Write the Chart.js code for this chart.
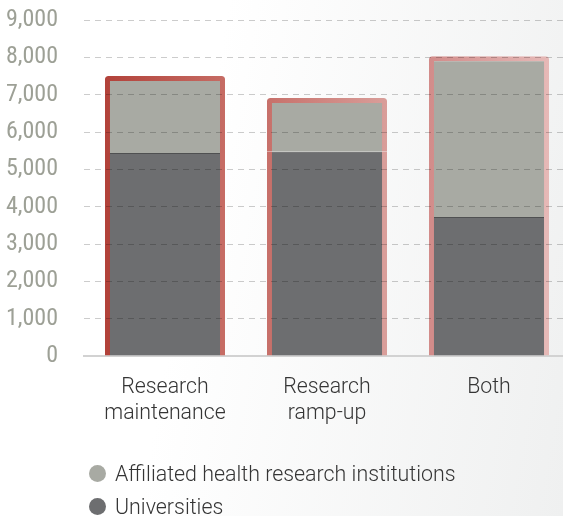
<!DOCTYPE html>
<html>
<head>
<meta charset="utf-8">
<script src="https://cdn.jsdelivr.net/npm/chart.js@4.4.1/dist/chart.umd.min.js"></script>
<style>
  html, body { margin: 0; padding: 0; }
  body {
    width: 563px;
    height: 516px;
    overflow: hidden;
    background: linear-gradient(100deg, #ffffff 35%, #eff0f0 100%);
    position: relative;
  }
  #wrap { width: 572px; height: 516px; position: relative; }
  #legend {
    position: absolute;
    left: 89px;
    top: 457px;
    margin: 0;
    padding: 0;
    list-style: none;
    font-family: Roboto, sans-serif;
    font-weight: 300;
    font-size: 21.4px;
    color: #353535;
  }
  #legend li { display: flex; align-items: center; height: 33px; white-space: nowrap; }
  #legend span.dot { width: 17px; height: 17px; border-radius: 50%; margin-right: 9px; flex: none; }
</style>
</head>
<body>
<div id="wrap"><canvas id="chart"></canvas></div>
<ul id="legend"></ul>
<script>
// data
const categories = [["Research", "maintenance"], ["Research", "ramp-up"], "Both"];
const universities = [5440, 5470, 3720];
const affiliated = [2060, 1440, 4310];
const yMax = 9000;
const yStep = 1000;

// styling
const edgeColors = [["#b2423a", "#c66c64"], ["#c7706a", "#d99e9a"], ["#d28c8a", "#e6b9b7"]];
const seamColor = "#4f5051";
const BAR_PCT = 0.741;
const EDGE = 5;

// red outline shaded left to right; the seam variant keeps the middle dark
function edgeFill(ctx, seam) {
    const chart = ctx.chart;
    const x = chart.scales && chart.scales.x;
    const pair = edgeColors[ctx.dataIndex];
    if (!chart.chartArea || !x) return pair[0];
    const center = x.getPixelForValue(ctx.dataIndex);
    const half = x.width / categories.length * BAR_PCT / 2;
    const g = chart.ctx.createLinearGradient(center - half, 0, center + half, 0);
    g.addColorStop(0, pair[0]);
    if (seam) {
        const f = EDGE / (2 * half);
        g.addColorStop(f, pair[0]);
        g.addColorStop(f, seamColor);
        g.addColorStop(1 - f, seamColor);
        g.addColorStop(1 - f, pair[1]);
    }
    g.addColorStop(1, pair[1]);
    return g;
}

// legend as a list below the canvas, built from the chart's own legend items
const htmlLegend = {
    id: "htmlLegend",
    afterUpdate(chart) {
        const list = document.getElementById("legend");
        list.innerHTML = "";
        const items = chart.options.plugins.legend.labels.generateLabels(chart).reverse();
        items.forEach(item => {
            const li = document.createElement("li");
            const dot = document.createElement("span");
            dot.className = "dot";
            dot.style.background = chart.data.datasets[item.datasetIndex].backgroundColor;
            li.appendChild(dot);
            li.appendChild(document.createTextNode(item.text));
            list.appendChild(li);
        });
    }
};

const font = "Roboto";

new Chart(document.getElementById("chart"), {
    type: "bar",
    data: {
        labels: categories,
        datasets: [
            {
                label: "Universities",
                data: universities,
                backgroundColor: "#6d6e70",
                borderColor: ctx => edgeFill(ctx, true),
                borderWidth: { top: 1, left: EDGE, right: EDGE, bottom: 0 },
                borderSkipped: false,
                barPercentage: BAR_PCT,
                categoryPercentage: 1
            },
            {
                label: "Affiliated health research institutions",
                data: affiliated,
                backgroundColor: "#a8aaa3",
                borderColor: ctx => edgeFill(ctx, false),
                borderWidth: { top: EDGE, left: EDGE, right: EDGE, bottom: 0 },
                borderSkipped: false,
                borderRadius: { topLeft: 3, topRight: 3 },
                barPercentage: BAR_PCT,
                categoryPercentage: 1
            }
        ]
    },
    options: {
        responsive: true,
        maintainAspectRatio: false,
        animation: false,
        layout: { padding: { top: 20, right: 2, left: 0, bottom: 65 } },
        scales: {
            x: {
                stacked: true,
                grid: { display: false, drawTicks: false },
                border: { display: true, color: "#d2d2d2", width: 2 },
                ticks: {
                    color: "#353535",
                    padding: 18,
                    font: { family: font, size: 21.3, weight: "300", lineHeight: 1.25 }
                },
                afterFit(scale) { scale.height = 95; }
            },
            y: {
                stacked: true,
                min: 0,
                max: yMax,
                grid: {
                    z: 1,
                    drawTicks: false,
                    color: ctx => ctx.tick && ctx.tick.value === 0 ? "rgba(0,0,0,0)" : "rgba(0,0,0,0.2)"
                },
                border: { display: false, dash: [6, 5] },
                ticks: {
                    stepSize: yStep,
                    color: "#9da096",
                    padding: 26,
                    font: { family: "'Liberation Sans Narrow', 'Roboto Condensed', Roboto", size: 24 },
                    callback: v => v.toLocaleString("en-US")
                },
                afterFit(scale) {
                    scale.width = 84;
                    scale.paddingTop = 0;
                    scale.paddingBottom = 0;
                }
            }
        },
        plugins: {
            tooltip: { enabled: false },
            legend: { display: false }
        }
    },
    plugins: [htmlLegend]
});
</script>
</body>
</html>
